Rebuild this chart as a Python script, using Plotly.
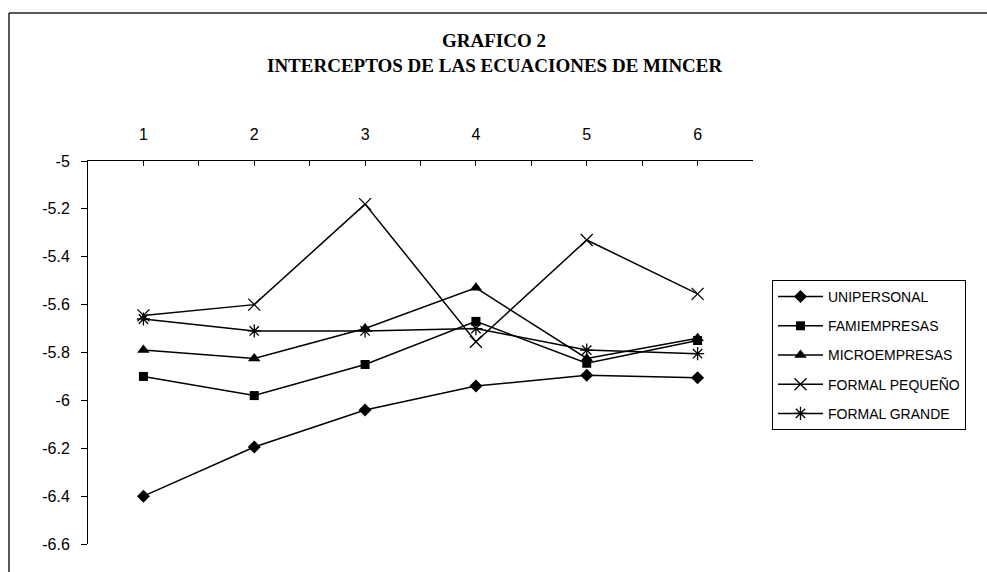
import plotly.graph_objects as go

categories = [1, 2, 3, 4, 5, 6]
unipersonal = [-6.40, -6.195, -6.04, -5.94, -5.895, -5.905]
famiempresas = [-5.90, -5.98, -5.85, -5.67, -5.845, -5.75]
microempresas = [-5.79, -5.825, -5.70, -5.53, -5.825, -5.74]
formal_pequeno = [-5.645, -5.60, -5.18, -5.755, -5.33, -5.555]
formal_grande = [-5.66, -5.71, -5.71, -5.70, -5.79, -5.805]

series_names = ["UNIPERSONAL", "FAMIEMPRESAS", "MICROEMPRESAS", "FORMAL PEQUEÑO", "FORMAL GRANDE"]
y_tick_vals = [-5, -5.2, -5.4, -5.6, -5.8, -6, -6.2, -6.4, -6.6]
y_tick_text = ["-5", "-5.2", "-5.4", "-5.6", "-5.8", "-6", "-6.2", "-6.4", "-6.6"]
x_tick_vals = [0.5, 1, 1.5, 2, 2.5, 3, 3.5, 4, 4.5, 5, 5.5, 6, 6.5]
x_tick_text = ["", "1", "", "2", "", "3", "", "4", "", "5", "", "6", ""]

title_line1 = "GRAFICO 2"
title_line2 = "INTERCEPTOS DE LAS ECUACIONES DE MINCER"

markers = [
    dict(symbol="diamond", size=10, color="black"),
    dict(symbol="square", size=9, color="black"),
    dict(symbol="triangle-up", size=11, color="black"),
    dict(symbol="x-thin-open", size=12, color="black", line=dict(color="black", width=1.3)),
    dict(symbol="asterisk-open", size=11, color="black", line=dict(color="black", width=1.3)),
]
all_series = [unipersonal, famiempresas, microempresas, formal_pequeno, formal_grande]

fig = go.Figure()
for i, (name, vals) in enumerate(zip(series_names, all_series)):
    fig.add_trace(go.Scatter(
        x=categories, y=vals, name=name, mode="lines+markers",
        line=dict(color="black", width=1.5),
        marker=markers[i],
        legendgroup=name,
    ))

# the page body margin is removed below, so positions are screenshot pixels
W, H = 987, 572
L, T = 88, 161
pw, ph = 665, 383
R, B = W - L - pw, H - T - ph

def px_to_paper_x(px):
    return (px - L) / pw

def px_to_paper_y(py):
    return 1 - (py - T) / ph

fig.update_layout(
    width=W, height=H,
    margin=dict(l=L, r=R, t=T, b=B, autoexpand=False),
    paper_bgcolor="white", plot_bgcolor="white",
    font=dict(family="Liberation Sans, Arial", color="black", size=15),
    showlegend=True,
    legend=dict(
        x=px_to_paper_x(772), y=px_to_paper_y(280), xanchor="left", yanchor="top",
        bordercolor="black", borderwidth=1, bgcolor="white",
        font=dict(family="Liberation Sans, Arial", size=14, color="black"),
        traceorder="grouped", tracegroupgap=8,
        itemwidth=45,
    ),
    xaxis=dict(
        range=[0.5, 6.5], side="top", showline=True, linecolor="black", linewidth=1,
        tickmode="array", tickvals=x_tick_vals, ticktext=x_tick_text,
        ticks="inside", ticklen=5, tickcolor="black", showgrid=False, zeroline=False,
        ticklabelstandoff=14, tickfont=dict(size=16),
    ),
    yaxis=dict(
        range=[-6.6, -5], showline=True, linecolor="black", linewidth=1,
        tickmode="array", tickvals=y_tick_vals, ticktext=y_tick_text,
        ticks="outside", ticklen=6, tickcolor="black", showgrid=False, zeroline=False,
        ticklabelstandoff=8, tickfont=dict(size=16),
    ),
    annotations=[
        dict(text="<b>" + title_line1 + "</b>", xref="paper", yref="paper",
             x=px_to_paper_x(494), y=px_to_paper_y(40), showarrow=False,
             xanchor="center", yanchor="middle",
             font=dict(family="Liberation Serif, Times New Roman", size=19, color="black")),
        dict(text="<b>" + title_line2 + "</b>", xref="paper", yref="paper",
             x=px_to_paper_x(494), y=px_to_paper_y(65), showarrow=False,
             xanchor="center", yanchor="middle",
             font=dict(family="Liberation Serif, Times New Roman", size=19, color="black")),
    ],
    shapes=[
        dict(type="line", xref="paper", yref="paper",
             x0=px_to_paper_x(9), y0=px_to_paper_y(13),
             x1=px_to_paper_x(1000), y1=px_to_paper_y(13),
             line=dict(color="#222222", width=1.5), layer="below"),
        dict(type="line", xref="paper", yref="paper",
             x0=px_to_paper_x(9), y0=px_to_paper_y(13),
             x1=px_to_paper_x(9), y1=px_to_paper_y(600),
             line=dict(color="#222222", width=1.5), layer="below"),
    ],
)

fig.write_html(
    "out.html",
    config={"displayModeBar": False},
    post_script="document.body.style.margin='0';document.body.style.overflow='hidden';",
)
